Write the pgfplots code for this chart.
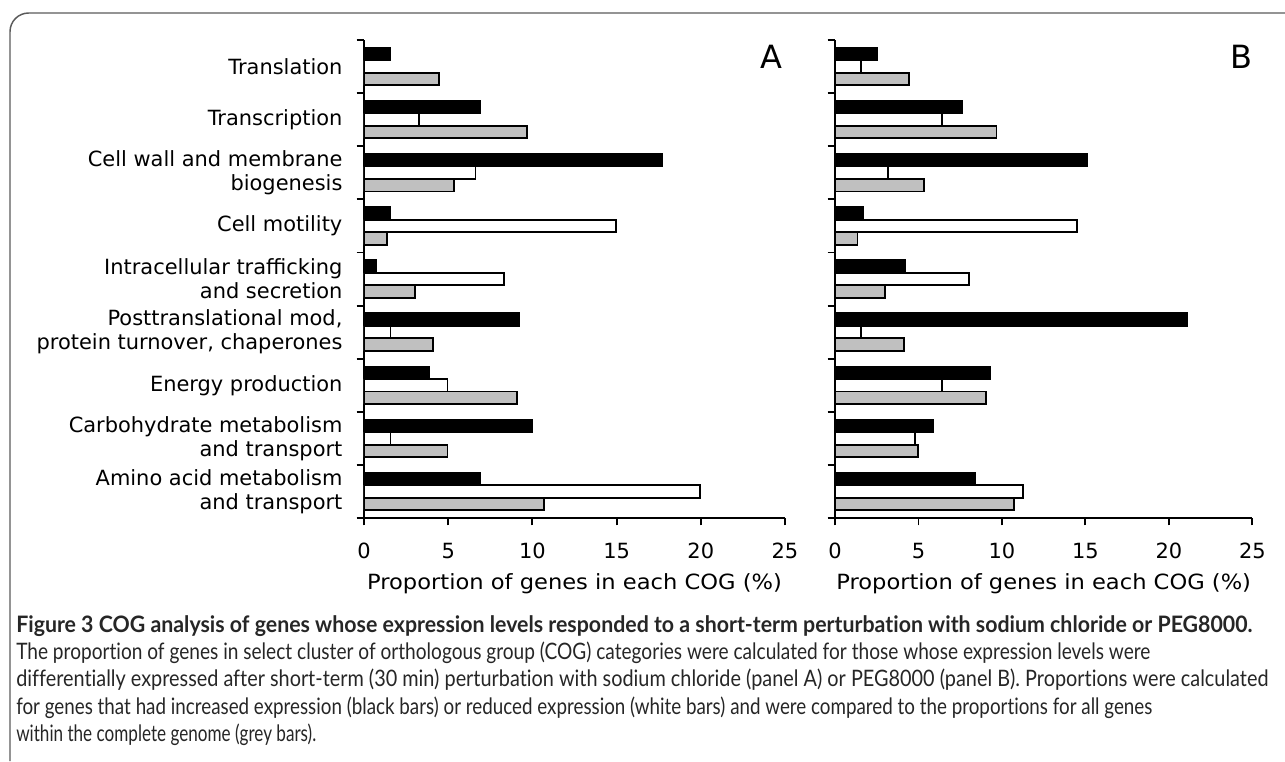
\documentclass[border=0pt]{standalone}
\usepackage{pgfplots}
\pgfplotsset{compat=1.18}
\usepackage{pgfplotstable}
\usepackage{graphicx}
\usepackage{fontspec}
\setmainfont{DejaVu Sans}
\newfontfamily\capfont[Ligatures=NoCommon]{Lato}

\definecolor{barGray}{RGB}{192,192,192}
\definecolor{frameGray}{RGB}{90,90,90}

% category: 1 Translation ... 9 Amino acid
\pgfplotstableread{
cat up down genome
1 1.54 0.00 4.45
2 6.92 3.27 9.67
3 17.69 6.62 5.33
4 1.57 14.96 1.35
5 0.74 8.30 3.01
6 9.23 1.57 4.12
7 3.84 4.96 9.06
8 10.00 1.57 4.96
9 6.92 19.96 10.70
}\dataA
\pgfplotstableread{
cat up down genome
1 2.53 1.54 4.45
2 7.60 6.40 9.67
3 15.10 3.16 5.33
4 1.66 14.50 1.35
5 4.20 8.05 3.01
6 21.07 1.54 4.12
7 9.27 6.40 9.06
8 5.90 4.80 4.96
9 8.40 11.28 10.70
}\dataB

\pgfplotsset{
  cogstyle/.style={
    scale only axis, height=358.5pt,
    xmin=0, xmax=25, ymin=0.5, ymax=9.5, y dir=reverse,
    axis x line*=bottom, axis y line*=left,
    axis line style={line width=1.4pt, black},
    xtick={0,5,...,25}, tick align=outside, major tick length=5.5pt,
    ytick={0.5,1.5,...,9.5}, yticklabels={},
    tick style={line width=1.4pt, black},
    /pgf/number format/assume math mode=true,
    ticklabel style={font=\fontsize{15.7}{18}\selectfont},
    xticklabel style={yshift=-10pt},
    xlabel={\resizebox{311pt}{\height}{Proportion of genes in each COG (\%)}},
    label style={font=\fontsize{15.7}{18}\selectfont},
    xlabel style={yshift=-4pt},
    xbar, bar width=0.235,
  },
  upbar/.style={fill=black, draw=black, line width=1.4pt, bar shift=-0.235},
  downbar/.style={fill=white, draw=black, line width=1.4pt, bar shift=0},
  genbar/.style={fill=barGray, draw=black, line width=1.4pt, bar shift=0.235},
}

\newcommand\capline[3]{\node at (12pt,#1) {\resizebox{#2}{\height}{\capfont\fontsize{17}{20}\selectfont #3}};}

\begin{document}
\begin{tikzpicture}
\useasboundingbox (0,0) rectangle (963.75pt,-570.75pt);
\draw[frameGray, line width=1.1pt, rounded corners=14pt] (7.5pt,-570.75pt) -- (7.5pt,-9.75pt) -- (963.75pt,-9.75pt);

\begin{axis}[cogstyle, width=315.75pt, at={(273pt,-30pt)}, anchor=north west,
  extra y ticks={1,2,3,4,5,6,7,8,9},
  extra y tick labels={Translation,Transcription,{Cell wall and membrane\\biogenesis},Cell motility,{Intracellular trafficking\\and secretion},{Posttranslational mod,\\protein turnover, chaperones},Energy production,{Carbohydrate metabolism\\and transport},{Amino acid metabolism\\and transport}},
  extra y tick style={major tick length=0pt, yticklabel style={align=right, inner sep=0pt, xshift=-16pt}},
]
\addplot[upbar] table[x=up, y=cat] {\dataA};
\addplot[downbar] table[x=down, y=cat] {\dataA};
\addplot[genbar] table[x=genome, y=cat] {\dataA};
\node[font=\fontsize{24}{28}\selectfont] at (rel axis cs:0.968,0.964) {A};
\end{axis}

\begin{axis}[cogstyle, width=313pt, at={(626.25pt,-30pt)}, anchor=north west]
\addplot[upbar] table[x=up, y=cat] {\dataB};
\addplot[downbar] table[x=down, y=cat] {\dataB};
\addplot[genbar] table[x=genome, y=cat] {\dataB};
\node[font=\fontsize{24}{28}\selectfont] at (rel axis cs:0.975,0.964) {B};
\end{axis}

\begin{scope}[every node/.style={anchor=base west, inner sep=0pt, text=black!85}]
\capline{-474pt}{927pt}{\bfseries Figure 3 COG analysis of genes whose expression levels responded to a short-term perturbation with sodium chloride or PEG8000.}
\capline{-494.25pt}{850.5pt}{The proportion of genes in select cluster of orthologous group (COG) categories were calculated for those whose expression levels were}
\capline{-515pt}{939pt}{differentially expressed after short-term (30 min) perturbation with sodium chloride (panel A) or PEG8000 (panel B). Proportions were calculated}
\capline{-535.5pt}{852pt}{for genes that had increased expression (black bars) or reduced expression (white bars) and were compared to the proportions for all genes}
\capline{-556.25pt}{225pt}{within the complete genome (grey bars).}
\end{scope}
\end{tikzpicture}
\end{document}
